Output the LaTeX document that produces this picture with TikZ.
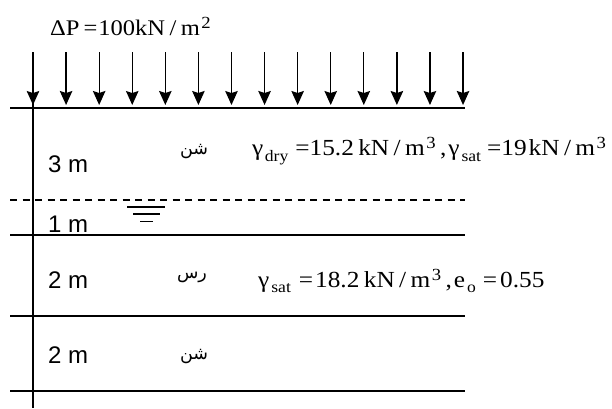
\documentclass[tikz,border=0pt]{standalone}
\usepackage{fontspec}
\usepackage{graphicx}
\setmainfont{Liberation Serif}
\setsansfont{Liberation Sans}
\newfontfamily\arabicfont[Script=Arabic]{DejaVu Sans}
\TeXXeTstate=1
\usetikzlibrary{arrows.meta}
\newcommand\mysub[2][6pt]{\raisebox{-#1}{\fontsize{16}{18}\selectfont #2}}
\newcommand\mysup[2][7pt]{\raisebox{#1}{\fontsize{17}{19}\selectfont #2}}
\newcommand\hs[1]{\hspace{#1pt}}
\newcommand\wide[1]{\scalebox{1.1}[1]{#1}}
\begin{document}
\begin{tikzpicture}[x=1pt,y=-1pt,
  soil/.style={line width=1.3pt},
  load/.style={line width=1.3pt,-{Stealth[length=14pt,width=12.5pt,inset=2pt]}},
  eq/.style={font=\fontsize{23}{25}\selectfont, anchor=base west, inner sep=0pt},
  eqp/.style={font=\fontsize{22.3}{25}\selectfont, anchor=base west, inner sep=0pt},
  depth/.style={font=\sffamily\fontsize{24}{26}\selectfont, anchor=base west, inner sep=0pt},
  ar/.style={font=\arabicfont\fontsize{17.5}{20}\selectfont, anchor=center, inner sep=0pt}]
\useasboundingbox (0,0) rectangle (612,408);
% load arrows
\foreach \i in {0,...,13} \draw[load] ({33+\i*33.08},52) -- ({33+\i*33.08},105);
% vertical line
\draw[soil] (33,100) -- (33,408);
% layer boundaries
\draw[soil] (10,108) -- (465,108);
\draw[line width=1.2pt, dash pattern=on 7pt off 5.5pt] (10,200) -- (465,200);
\draw[soil] (10,235) -- (465,235);
\draw[soil] (10,316) -- (465,316);
\draw[soil] (10,391) -- (465,391);
% water table symbol
\draw[line width=2pt] (127,207) -- (165,207);
\draw[soil] (133,214) -- (160,214);
\draw[soil] (140,221.5) -- (153,221.5);
% texts
\node[eqp] (dp) at (50,35) {\wide{ΔP\hs{3.6}=\hs{0.9}100kN\hs{4}/\hs{4}m\hs{1.4}\mysup{2}}};
\node[depth] (d1) at (48,172) {3 m};
\node[depth] (d2) at (48,232) {1 m};
\node[depth] (d3) at (48,288) {2 m};
\node[depth] (d4) at (48,363) {2 m};
\node[ar] (s1) at (194,152) {\beginR شن\endR};
\node[ar] (c1) at (192,277) {\beginR رس\endR};
\node[ar] (s2) at (194,356) {\beginR شن\endR};
\node[eq] (g1) at (252,155) {\wide{γ\hs{1.4}\mysub{dry}\hs{6.4}=15.2\hs{4}kN\hs{4}/\hs{4}m\hs{1.4}\mysup{3}\hs{4},\hs{1.8}γ\hs{1.8}\mysub{sat}\hs{5.5}=19\hs{1.8}kN\hs{4}/\hs{4}m\hs{1.4}\mysup{3}}};
\node[eq] (g2) at (258,287) {\wide{γ\hs{1.8}\mysub[5pt]{sat}\hs{7.3}=\hs{1.8}18.2\hs{4}kN\hs{4}/\hs{4}m\hs{1.4}\mysup{3}\hs{4},\hs{1.8}e\hs{1.8}\mysub[5pt]{o}\hs{6.4}=\hs{2.7}0.55}};
\end{tikzpicture}
\end{document}
